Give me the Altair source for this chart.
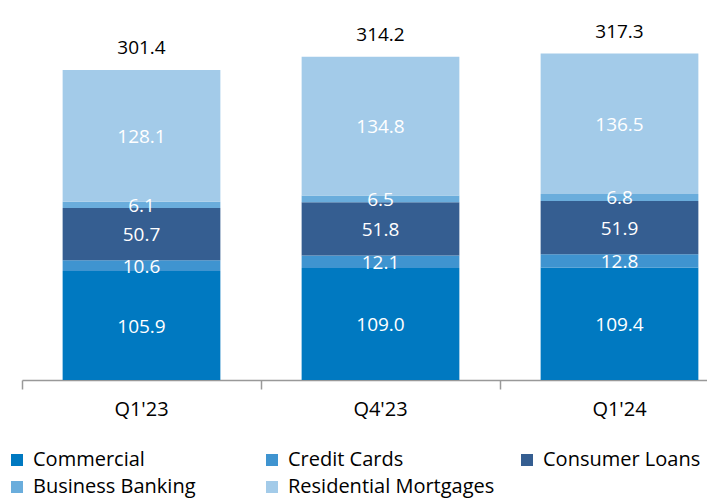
import altair as alt
import pandas as pd

quarters = ["Q1'23", "Q4'23", "Q1'24"]
segments = ["Commercial", "Credit Cards", "Consumer Loans", "Business Banking", "Residential Mortgages"]
commercial = [105.9, 109.0, 109.4]
credit_cards = [10.6, 12.1, 12.8]
consumer_loans = [50.7, 51.8, 51.9]
business_banking = [6.1, 6.5, 6.8]
residential_mortgages = [128.1, 134.8, 136.5]
totals = [301.4, 314.2, 317.3]
colors = ["#0079C1", "#3F94D0", "#355E91", "#6AADDC", "#A3CBE9"]

FONT = "Open Sans"

series = [commercial, credit_cards, consumer_loans, business_banking, residential_mortgages]
rows = []
for i, q in enumerate(quarters):
    for j, (s, vals) in enumerate(zip(segments, series)):
        rows.append(dict(quarter=q, segment=s, value=vals[i], order=j, label=f"{vals[i]:.1f}"))
df = pd.DataFrame(rows)
tot = pd.DataFrame(dict(quarter=quarters, total=totals, label=[f"{t:.1f}" for t in totals]))

x = alt.X(
    "quarter:N",
    sort=quarters,
    scale=alt.Scale(paddingInner=0, paddingOuter=0, range=[0, 717]),
    axis=alt.Axis(
        title=None, labelAngle=0, bandPosition=0,
        ticks=True, tickSize=9, tickColor="#999999", tickWidth=1.5,
        domainColor="#999999", domainWidth=1.5,
        labelFontSize=20, labelPadding=10, labelColor="black", labelFont=FONT,
        grid=False,
    ),
)
yscale = alt.Scale(domain=[0, 350])

bars = alt.Chart(df).mark_bar(width=alt.RelativeBandSize(0.66)).encode(
    x=x,
    y=alt.Y("value:Q", stack="zero", scale=yscale, axis=None),
    color=alt.Color(
        "segment:N",
        scale=alt.Scale(domain=segments, range=colors),
        legend=alt.Legend(
            title=None, orient="none", legendX=-15, legendY=430,
            direction="horizontal",
            columns=3, gridAlign="all", columnPadding=22, rowPadding=7,
            symbolType="square", symbolSize=144, symbolStrokeWidth=0,
            labelFontSize=20, labelFont=FONT, labelColor="black",
            labelOffset=6, labelLimit=400, padding=0,
        ),
    ),
    order=alt.Order("order:Q", sort="ascending"),
)

seg_labels = alt.Chart(df).transform_stack(
    stack="value", groupby=["quarter"], as_=["y0", "y1"],
    sort=[alt.SortField("order", order="ascending")],
).transform_calculate(
    mid="(datum.y0 + datum.y1) / 2"
).mark_text(color="white", fontSize=19, baseline="middle", dy=1, font=FONT).encode(
    x=x,
    y=alt.Y("mid:Q", scale=yscale, axis=None),
    text="label:N",
)

tot_labels = alt.Chart(tot).mark_text(
    color="black", fontSize=19, baseline="bottom", dy=-12, font=FONT
).encode(
    x=x,
    y=alt.Y("total:Q", scale=yscale, axis=None),
    text="label:N",
)

chart = alt.layer(bars, seg_labels, tot_labels).properties(
    width=685, height=360,
    autosize=alt.AutoSizeParams(type="none"),
    padding={"left": 14, "top": 12, "right": 0, "bottom": 118},
).configure_view(stroke=None)

chart.save("out.html", embed_options={"renderer": "svg", "actions": False})
